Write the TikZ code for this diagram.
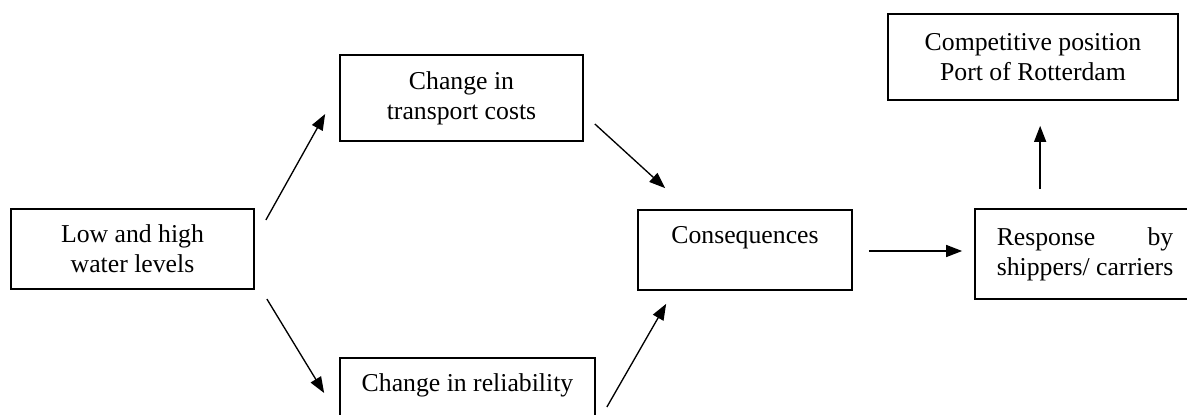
\documentclass[tikz,border=0pt]{standalone}
\usepackage{fontspec}
\setmainfont{Liberation Serif}
\usetikzlibrary{arrows.meta,calc}
\begin{document}
\begin{tikzpicture}[x=0.75pt,y=-0.75pt,
  box/.style={draw,line width=1.3pt,rectangle,inner sep=0pt,align=center,
    font=\fontsize{19.3pt}{22.5pt}\selectfont},
  arr/.style={line width=1pt,-{Triangle[length=12pt,width=9pt]}}]
\useasboundingbox (0,0) rectangle (1187,414);
\clip (0,0) rectangle (1187,414);
\node[box,minimum width=182.25pt,minimum height=60pt] (low) at (132.5,249) {Low and high\\water levels};
\node[box,minimum width=182.25pt,minimum height=64.5pt] (trans) at (461.5,98) {Change in\\transport costs};
\node[box,minimum width=191.25pt,minimum height=60pt] (rel) at (467.5,398) {Change in reliability\\\mbox{}};
\node[box,minimum width=160.5pt,minimum height=60pt] (cons) at (745,250) {Consequences\\\mbox{}};
\node[box,minimum width=165pt,minimum height=67.5pt] (resp) at (1085,254) {\begin{tabular}{@{}l@{}}Response\hfill by\\shippers/ carriers\end{tabular}};
\node[box,minimum width=217.5pt,minimum height=64.5pt] (comp) at (1033,57) {Competitive position\\Port of Rotterdam};
\coordinate (a1s) at ($(low.east)+(11,-29)$);
\coordinate (a1e) at ($(trans.west)+(-14,16)$);
\coordinate (a2s) at ($(low.east)+(12,50)$);
\coordinate (a2e) at ($(rel.west)+(-15,-5)$);
\coordinate (a3s) at ($(trans.east)+(11,26)$);
\coordinate (a3e) at ($(cons.north west)+(28,-21)$);
\coordinate (a4s) at ($(rel.east)+(11,9)$);
\coordinate (a4e) at ($(cons.south west)+(29,13)$);
\coordinate (a5s) at ($(cons.east)+(16,1)$);
\coordinate (a5e) at ($(resp.west)+(-12,-3)$);
\coordinate (a6s) at ($(resp.north west)+(66,-19)$);
\coordinate (a6e) at ($(a6s |- comp.south)+(0,25)$);
\draw[arr] (a1s) -- (a1e);
\draw[arr] (a2s) -- (a2e);
\draw[arr] (a3s) -- (a3e);
\draw[arr] (a4s) -- (a4e);
\draw[arr] (a5s) -- (a5e);
\draw[arr] (a6s) -- (a6e);
\end{tikzpicture}
\end{document}
